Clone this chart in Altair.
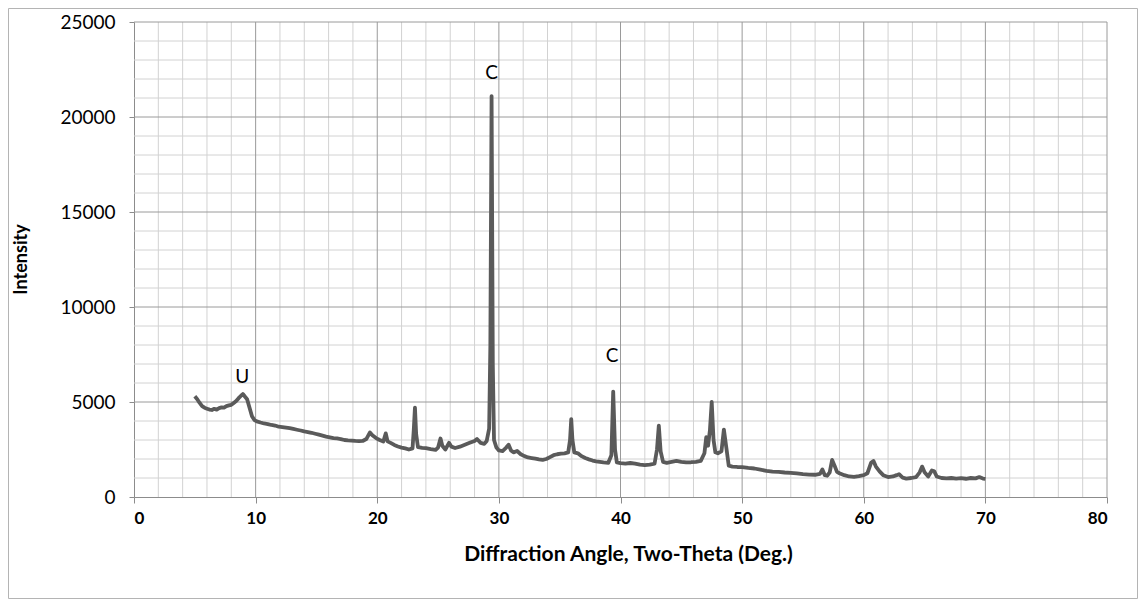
import altair as alt
import pandas as pd

# Diffraction angle (2-theta, degrees) and intensity
two_theta = [
    5.0, 5.2, 5.4, 5.6, 5.8, 6.0, 6.2, 6.4, 6.6, 6.8, 7.0, 7.2, 7.4, 7.6, 7.8, 8.0,
    8.2, 8.4, 8.6, 8.8, 8.95, 9.1, 9.3, 9.5, 9.7, 9.9, 10.1, 10.4, 10.7, 11.0, 11.3,
    11.6, 11.9, 12.2, 12.5, 12.8, 13.1, 13.4, 13.7, 14.0, 14.3, 14.6, 14.9, 15.2,
    15.5, 15.8, 16.1, 16.4, 16.7, 17.0, 17.3, 17.6, 17.9, 18.2, 18.5, 18.8, 19.1,
    19.4, 19.6, 19.9, 20.2, 20.5, 20.7, 20.85, 21.1, 21.4, 21.7, 22.0, 22.3, 22.6,
    22.9, 23.0, 23.1, 23.2, 23.35, 23.7, 24.0, 24.4, 24.8, 25.0, 25.2, 25.35, 25.6,
    25.9, 26.1, 26.4, 26.8, 27.2, 27.6, 28.0, 28.2, 28.5, 28.8, 29.0, 29.2, 29.3,
    29.4, 29.5, 29.6, 29.8, 30.0, 30.3, 30.6, 30.8, 31.0, 31.2, 31.5, 31.8, 32.1,
    32.4, 32.7, 33.0, 33.3, 33.6, 33.9, 34.2, 34.5, 34.8, 35.1, 35.4, 35.7, 35.85,
    35.95, 36.05, 36.2, 36.5, 36.8, 37.1, 37.4, 37.7, 38.0, 38.3, 38.6, 39.0, 39.25,
    39.4, 39.55, 39.7, 40.0, 40.4, 40.8, 41.2, 41.6, 42.0, 42.4, 42.8, 43.0, 43.15,
    43.3, 43.5, 43.8, 44.2, 44.6, 45.0, 45.4, 45.8, 46.2, 46.6, 46.9, 47.05, 47.2,
    47.35, 47.5, 47.65, 47.8, 48.0, 48.3, 48.5, 48.7, 48.9, 49.2, 49.6, 50.0, 50.5,
    51.0, 51.5, 52.0, 52.5, 53.0, 53.5, 54.0, 54.5, 55.0, 55.5, 56.0, 56.4, 56.6,
    56.8, 57.0, 57.2, 57.4, 57.6, 57.8, 58.0, 58.4, 58.8, 59.2, 59.6, 60.0, 60.3,
    60.6, 60.8, 61.0, 61.3, 61.6, 62.0, 62.4, 62.7, 62.9, 63.2, 63.5, 63.9, 64.3,
    64.6, 64.8, 65.0, 65.3, 65.6, 65.8, 66.0, 66.4, 66.8, 67.2, 67.6, 68.0, 68.4,
    68.8, 69.2, 69.5, 69.8, 70.0,
]
intensity = [
    5300, 5150, 4950, 4780, 4700, 4650, 4600, 4580, 4640, 4600, 4680, 4720, 4700, 4780, 4820, 4850,
    4950, 5050, 5200, 5330, 5420, 5300, 5150, 4700, 4250, 4050, 3980, 3920, 3870, 3840, 3790,
    3760, 3700, 3680, 3650, 3620, 3580, 3540, 3500, 3450, 3420, 3380, 3330, 3280,
    3230, 3180, 3140, 3100, 3080, 3050, 3000, 2980, 2970, 2950, 2940, 2950, 3050,
    3400, 3250, 3100, 3000, 2920, 3350, 2930, 2850, 2740, 2660, 2600, 2560, 2500,
    2560, 3500, 4700, 3300, 2620, 2590, 2570, 2520, 2480, 2600, 3080, 2700, 2500,
    2850, 2650, 2580, 2650, 2750, 2850, 2950, 3050, 2850, 2800, 2950, 3600, 8000,
    21100, 7000, 3000, 2600, 2450, 2420, 2600, 2750, 2450, 2350, 2420, 2250, 2150,
    2080, 2050, 2020, 1980, 1950, 2000, 2100, 2200, 2250, 2280, 2300, 2350, 3000,
    4100, 3000, 2350, 2300, 2150, 2050, 1980, 1920, 1880, 1850, 1820, 1800, 2200,
    5550, 2500, 1820, 1780, 1760, 1790, 1760, 1700, 1680, 1700, 1750, 2500, 3750,
    2400, 1850, 1800, 1850, 1900, 1850, 1820, 1830, 1850, 1900, 2300, 3150, 2700,
    3500, 5000, 3000, 2350, 2300, 2400, 3550, 2600, 1650, 1600, 1580, 1570, 1530,
    1500, 1440, 1380, 1340, 1320, 1290, 1270, 1240, 1200, 1180, 1170, 1220, 1450,
    1150, 1120, 1300, 1950, 1650, 1320, 1250, 1150, 1080, 1060, 1100, 1150, 1250,
    1800, 1900, 1600, 1350, 1150, 1050, 1080, 1150, 1200, 1020, 970, 1000, 1050,
    1300, 1600, 1300, 1080, 1400, 1350, 1080, 1000, 980, 1000, 970, 990, 960,
    1000, 980, 1050, 970, 950,
]

# Peak labels
label_text = ["U", "C", "C"]
label_x = [8.9, 29.4, 39.3]
label_y = [6300, 22300, 7400]

# Axis ticks / grid
x_ticks = [0, 10, 20, 30, 40, 50, 60, 70, 80]
y_ticks = [0, 5000, 10000, 15000, 20000, 25000]
x_minor = [v for v in range(2, 80, 2) if v % 10 != 0]
y_minor = [v for v in range(1000, 25000, 1000) if v % 5000 != 0]

W, H = 973, 475
FONT = "Lato"

xscale = alt.Scale(domain=[0, 80], nice=False, zero=False)
yscale = alt.Scale(domain=[0, 25000], nice=False)

xaxis = alt.Axis(
    values=x_ticks, grid=False, format="d",
    domainColor="#8c8c8c", tickColor="#8c8c8c", tickSize=6,
    labelFont=FONT, labelFontSize=17, labelFontWeight="bold", labelColor="black",
    labelPadding=7,
    titleFont=FONT, titleFontSize=21, titleFontWeight="bold", titleColor="black",
    titleX=494, titleY=57, titleBaseline="middle", titleAlign="center",
)
yaxis = alt.Axis(
    values=y_ticks, grid=False, format="d",
    domainColor="#8c8c8c", tickColor="#8c8c8c", tickSize=5,
    labelFont=FONT, labelFontSize=19, labelColor="black", labelPadding=14,
    titleFont=FONT, titleFontSize=18, titleFontWeight="bold", titleColor="black",
    titleX=-113, titleY=237, titleAngle=-90, titleBaseline="middle", titleAlign="center",
)

X = alt.X("x:Q", scale=xscale, axis=xaxis, title="Diffraction Angle, Two-Theta (Deg.)")
Y = alt.Y("y:Q", scale=yscale, axis=yaxis, title="Intensity")

df = pd.DataFrame({"x": two_theta, "y": intensity})
lab = pd.DataFrame({"x": label_x, "y": label_y, "t": label_text})

vminor = alt.Chart(pd.DataFrame({"x": x_minor})).mark_rule(color="#d2d2d2", strokeWidth=1).encode(x=X)
hminor = alt.Chart(pd.DataFrame({"y": y_minor})).mark_rule(color="#d2d2d2", strokeWidth=1).encode(y=Y)
vmajor = alt.Chart(pd.DataFrame({"x": x_ticks[1:]})).mark_rule(color="#9a9a9a", strokeWidth=1).encode(x=X)
hmajor = alt.Chart(pd.DataFrame({"y": y_ticks[1:]})).mark_rule(color="#9a9a9a", strokeWidth=1).encode(y=Y)

line = alt.Chart(df).mark_line(color="#5a5a5a", strokeWidth=3.8, strokeJoin="round").encode(x=X, y=Y)

text = alt.Chart(lab).mark_text(font=FONT, fontSize=19, color="black", baseline="middle").encode(
    x=X, y=Y, text="t:N"
)

border = alt.Chart(pd.DataFrame({"k": [0]})).mark_rect(
    filled=False, stroke="#b4b4b4", strokeWidth=1, clip=False
).encode(
    x=alt.value(-125.5), x2=alt.value(W + 30.5), y=alt.value(-13.5), y2=alt.value(H + 101.5)
)

chart = alt.layer(vminor, hminor, vmajor, hmajor, line, text, border).properties(
    width=W, height=H,
    autosize=alt.AutoSizeParams(type="none"),
    padding={"left": 126, "top": 14, "right": 32, "bottom": 103},
    background="white",
).configure_view(stroke=None)

chart.save("out.html", embed_options={"renderer": "svg", "actions": False})
